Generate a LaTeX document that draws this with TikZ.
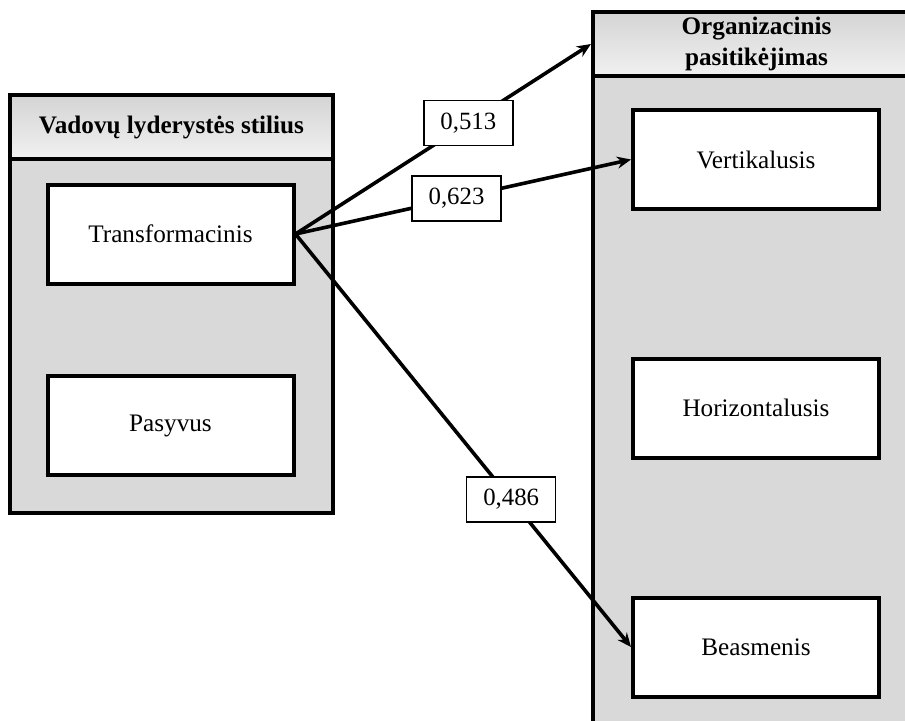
\documentclass[tikz,border=0pt]{standalone}
\usepackage{fontspec}
\setmainfont{Liberation Serif}
\usetikzlibrary{arrows.meta,positioning}
\definecolor{hdrtop} {RGB}{212,212,212}
\definecolor{hdrbot} {RGB}{241,241,241}
\definecolor{pnlgray}{RGB}{217,217,217}
\tikzset{
  pnl/.style={draw=black,line width=2pt,fill=pnlgray,inner sep=0pt},
  hdr/.style={draw=black,line width=2pt,top color=hdrtop,bottom color=hdrbot,
              inner sep=0pt,align=center,
              font=\fontsize{12.6}{15.5}\selectfont\bfseries},
  blk/.style={draw=black,line width=2pt,fill=white,
              minimum width=123pt,minimum height=49.5pt,
              font=\fontsize{12.6}{15}\selectfont},
  arr/.style={-{Stealth[length=7pt,width=6pt]},line width=1.8pt},
  lbl/.style={draw=black,line width=0.75pt,fill=white,
              minimum width=44.5pt,minimum height=22.5pt,inner sep=0pt,
              font=\fontsize{12.4}{14}\selectfont},
}
\begin{document}
\begin{tikzpicture}[x=0.5pt,y=-0.5pt]
  \useasboundingbox (0,0) rectangle (905,720);
  \clip (0,0) rectangle (905,720);

  % left panel
  \node[pnl,minimum width=161.5pt,minimum height=177pt] (leftbody) at (171.5,336) {};
  \node[hdr,minimum width=161.5pt,minimum height=32pt] (lefthead) at (171.5,127)
    {Vadovų lyderystės stilius};
  \node[blk] (trans) at (170.5,234) {Transformacinis};
  \node[blk] (pasyv) at (170.5,425.5) {Pasyvus};

  % right panel
  \node[pnl,minimum width=163.5pt,minimum height=332pt] (rightbody) at (756.5,408) {};
  \node[hdr,minimum width=163.5pt,minimum height=32pt] (righthead) at (756.5,44)
    {Organizacinis\\pasitikėjimas};
  \node[blk] (vert)  at (756,159.5) {Vertikalusis};
  \node[blk] (horiz) at (756,408) {Horizontalusis};
  \node[blk] (beasm) at (756,647) {Beasmenis};

  \draw[arr] (trans.east) -- node[lbl,pos=0.585]{0,513} (righthead.west);
  \draw[arr] (trans.east) -- node[lbl,pos=0.48]{0,623} (vert.west);
  \draw[arr] (trans.east) -- node[lbl,pos=0.643]{0,486} (beasm.west);
\end{tikzpicture}
\end{document}
